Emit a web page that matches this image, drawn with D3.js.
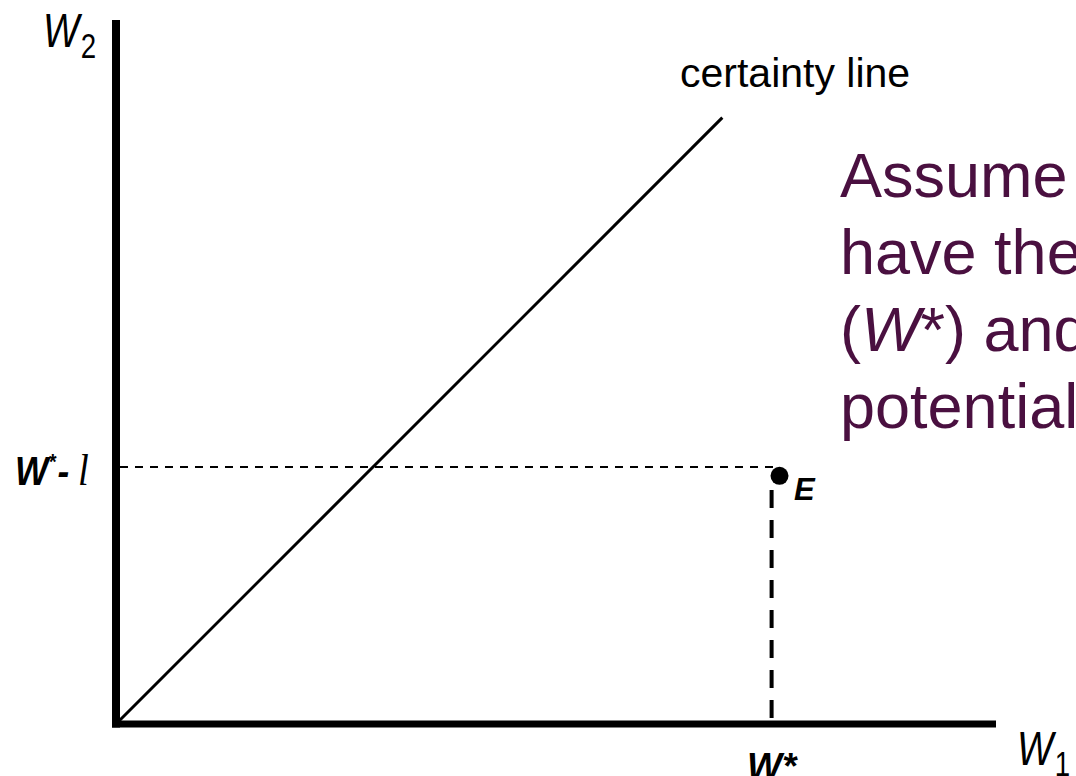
<!DOCTYPE html>
<html><head><meta charset="utf-8">
<script src="https://cdn.jsdelivr.net/npm/d3@7"></script>
<style>html,body{margin:0;padding:0;background:#fff;overflow:hidden}</style>
</head><body>
<svg id="c" width="1076" height="776"></svg>
<script>
// ---- data ----
const xDomain = [0, 100];          // W1
const yDomain = [0, 80];           // W2
const certaintyLine = [[0, 0], [68.9, 68.9]];
const wStar = [74.5];              // W*
const wStarMinusL = [29.2];        // W* - l
const pointE = [[75.4, 28.2]];
const axisLabels = ["W1", "W2"];
const noteLines = ["Assume", "have the", "(W*) and", "potential"];

const svg = d3.select("#c");
const x = d3.scaleLinear().domain(xDomain).range([116, 996]);
const y = d3.scaleLinear().domain(yDomain).range([724, 20]);

// axes
svg.append("line").attr("x1", x(0)).attr("x2", x(0)).attr("y1", y(yDomain[1])).attr("y2", y(0) + 3.5)
  .attr("stroke", "#000").attr("stroke-width", 8);
svg.append("line").attr("x1", x(0) - 4).attr("x2", x(xDomain[1])).attr("y1", y(0)).attr("y2", y(0))
  .attr("stroke", "#000").attr("stroke-width", 7);

// certainty line
svg.append("path").datum(certaintyLine)
  .attr("d", d3.line().x(d => x(d[0])).y(d => y(d[1])))
  .attr("stroke", "#000").attr("stroke-width", 3).attr("fill", "none");

// dashed guides
svg.append("line").attr("x1", x(0) + 4).attr("x2", x(pointE[0][0])).attr("y1", y(wStarMinusL[0])).attr("y2", y(wStarMinusL[0]))
  .attr("stroke", "#000").attr("stroke-width", 2).attr("stroke-dasharray", "8,7");
svg.append("line").attr("x1", x(wStar[0])).attr("x2", x(wStar[0])).attr("y1", y(wStarMinusL[0]) + 23).attr("y2", y(0) - 3)
  .attr("stroke", "#000").attr("stroke-width", 4).attr("stroke-dasharray", "18,12");

// point E
svg.selectAll("circle.e").data(pointE).join("circle")
  .attr("cx", d => x(d[0])).attr("cy", d => y(d[1])).attr("r", 9).attr("fill", "#000");

const F = "Liberation Sans, Arial, Helvetica, sans-serif";

function wLabel(px, py, sub, size) {
  const g = svg.append("g").attr("transform", `translate(${px},${py}) scale(0.8,1)`);
  const t = g.append("text").attr("font-family", F).attr("font-size", size).attr("fill", "#000");
  t.append("tspan").attr("font-style", "italic").text("W");
  t.append("tspan").attr("font-size", size * 0.72).attr("dy", 11).attr("dx", 2).text(sub);
}
wLabel(43, 47, axisLabels[1].slice(1), 48);
wLabel(1017, 765, axisLabels[0].slice(1), 48);

// certainty line label
svg.append("text").attr("x", 680).attr("y", 87).attr("font-family", F).attr("font-size", 41)
  .attr("fill", "#000").text("certainty line");

// W* - l label
{
  const g = svg.append("g").attr("transform", `translate(15,485) scale(0.88,1)`);
  const t = g.append("text").attr("font-family", F).attr("font-size", 40).attr("font-weight", "bold").attr("font-style", "italic");
  t.append("tspan").text("W");
  t.append("tspan").attr("font-size", 22).attr("dy", -16).text("*");
  t.append("tspan").attr("dy", 16).attr("dx", 2).text("-");
  t.append("tspan").attr("font-family", "Liberation Serif, Times New Roman, serif").attr("font-weight", "normal")
    .attr("font-size", 44).attr("dx", 10).text("l");
}
// W* label
svg.append("text").attr("x", 747).attr("y", 779).attr("font-family", F).attr("font-size", 37)
  .attr("font-weight", "bold").attr("font-style", "italic").text("W*");
// E label
svg.append("text").attr("x", 794).attr("y", 500).attr("font-family", F).attr("font-size", 31)
  .attr("font-weight", "bold").attr("font-style", "italic").text("E");

// note text
const note = svg.append("text").attr("font-family", F).attr("font-size", 63).attr("fill", "#4a1040");
noteLines.forEach((s, i) => {
  const ts = note.append("tspan").attr("x", 840).attr("y", 197 + i * 77);
  if (s.startsWith("(W*)")) {
    ts.text("(");
    note.append("tspan").attr("font-style", "italic").text("W");
    note.append("tspan").text("*) and");
  } else ts.text(s);
});
</script>
</body></html>
